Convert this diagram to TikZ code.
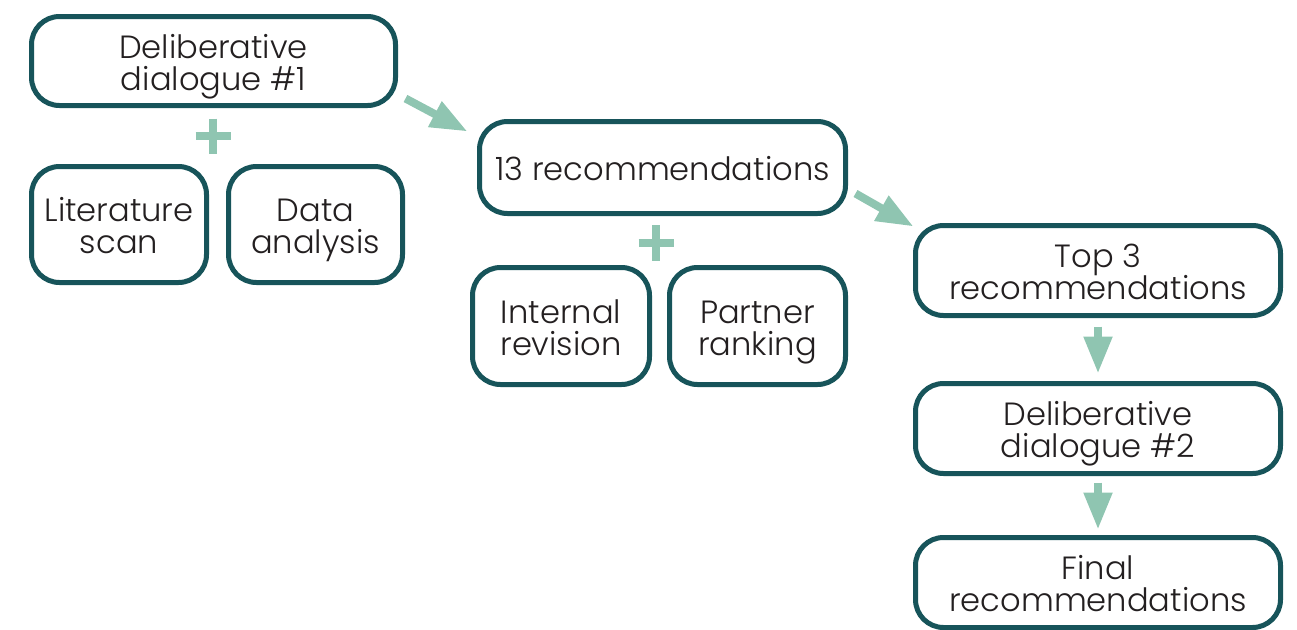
\documentclass[tikz,border=0pt]{standalone}
\usepackage{fontspec}
\setmainfont{Poppins}[UprightFont={* Light}]
\usetikzlibrary{arrows.meta}
\definecolor{bordercol}{HTML}{17545A}
\definecolor{arrowcol}{HTML}{8FC5B1}
\definecolor{textcol}{HTML}{231F20}
\newcommand\boxline[1]{\rule[-1.5pt]{0pt}{22.5pt}\smash{#1}}
\tikzset{
  box/.style={draw=bordercol, line width=3.75pt, rounded corners=21pt, align=center,
    text=textcol, font=\fontsize{24.1pt}{24pt}\selectfont, inner sep=0pt, fill=white},
  arr/.style={draw=arrowcol, line width=6pt, -{Triangle[width=20.25pt,length=27.75pt]}},
  plusbar/.style={draw=arrowcol, line width=6.5pt}
}
\begin{document}
\begin{tikzpicture}[x=0.75pt,y=-0.75pt]
\useasboundingbox (0,0) rectangle (1297,629);
\node[box, minimum width=273pt, minimum height=66.75pt] (A) at (213.5,61) {\boxline{Deliberative}\\\boxline{dialogue \#1}};
\node[box, minimum width=131.25pt, minimum height=87pt] (B) at (119,224.5) {\boxline{Literature}\\\boxline{scan}};
\node[box, minimum width=130.5pt, minimum height=87pt] (C) at (315.5,224.5) {\boxline{Data}\\\boxline{analysis}};
\node[box, minimum width=274.5pt, minimum height=69pt] (D) at (662.5,167.5) {\boxline{13 recommendations}};
\node[box, minimum width=132.75pt, minimum height=87.75pt] (E) at (561,326) {\boxline{Internal}\\\boxline{revision}};
\node[box, minimum width=132pt, minimum height=87.75pt] (F) at (757.5,326) {\boxline{Partner}\\\boxline{ranking}};
\node[box, minimum width=273.75pt, minimum height=67.5pt] (G) at (1098,270.5) {\boxline{Top 3}\\\boxline{recommendations}};
\node[box, minimum width=273.75pt, minimum height=67.5pt] (H) at (1098,428.5) {\boxline{Deliberative}\\\boxline{dialogue \#2}};
\node[box, minimum width=273.75pt, minimum height=67.5pt] (I) at (1098,582.5) {\boxline{Final}\\\boxline{recommendations}};
% plus signs
\coordinate (p1) at (213,136);
\coordinate (p2) at (656,243);
\draw[plusbar] ([xshift=-17.5*0.75pt]p1) -- ([xshift=17.5*0.75pt]p1);
\draw[plusbar] ([yshift=17.5*0.75pt]p1) -- ([yshift=-17.5*0.75pt]p1);
\draw[plusbar] ([xshift=-17.5*0.75pt]p2) -- ([xshift=17.5*0.75pt]p2);
\draw[plusbar] ([yshift=18*0.75pt]p2) -- ([yshift=-18*0.75pt]p2);
% arrows
\draw[arr] ([shift={(7.5,-9.5)}]A.south east) -- ([shift={(-9.5,12.5)}]D.north west);
\draw[arr] ([shift={(7.5,-22.5)}]D.south east) -- ([shift={(0.5,3.5)}]G.north west);
\draw[arr, shorten <=6.4pt, shorten >=5.6pt] (G.south) -- (H.north);
\draw[arr, shorten <=4.9pt, shorten >=4.1pt] (H.south) -- (I.north);
\end{tikzpicture}
\end{document}
